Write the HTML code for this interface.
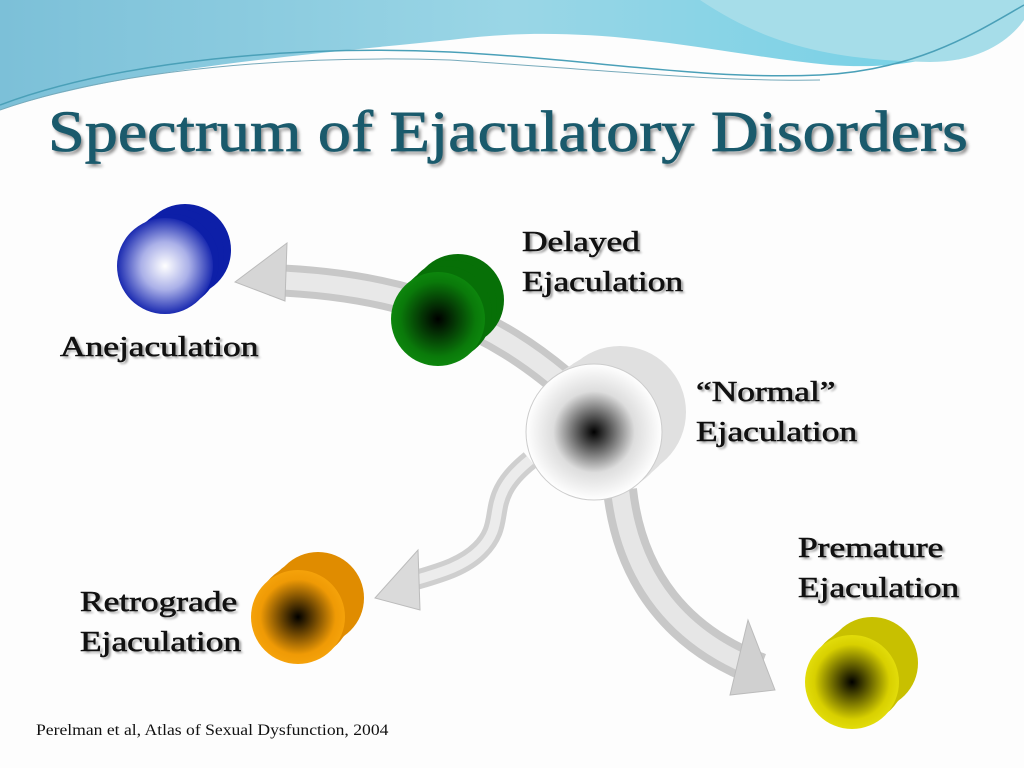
<!DOCTYPE html>
<html><head><meta charset="utf-8"><style>
body{margin:0;width:1024px;height:768px;overflow:hidden;background:#fdfdfd;font-family:"Liberation Serif",serif}
.t{position:absolute;color:#111;font-size:29px;line-height:40px;text-shadow:2px 2px 2px #999;transform:scaleX(1.22);transform-origin:0 0;-webkit-text-stroke:0.6px #111;white-space:nowrap}
</style></head><body>
<svg width="1024" height="768" style="position:absolute;left:0;top:0">
<defs>
<linearGradient id="sky" x1="0" y1="0" x2="1" y2="0"><stop offset="0" stop-color="#7cc0d8"/><stop offset="0.5" stop-color="#9ad6e6"/><stop offset="1" stop-color="#6fd0e6"/></linearGradient>
<radialGradient id="gW"><stop offset="0" stop-color="#000"/><stop offset="0.6" stop-color="#ddd"/><stop offset="1" stop-color="#fff"/></radialGradient>
<radialGradient id="gG"><stop offset="0" stop-color="#000"/><stop offset="0.8" stop-color="#0a7a0a"/><stop offset="1" stop-color="#0d860d"/></radialGradient>
<radialGradient id="gO"><stop offset="0" stop-color="#000"/><stop offset="0.8" stop-color="#ef9a05"/><stop offset="1" stop-color="#f5a20a"/></radialGradient>
<radialGradient id="gY"><stop offset="0" stop-color="#000"/><stop offset="0.8" stop-color="#d8d000"/><stop offset="1" stop-color="#e2dc0a"/></radialGradient>
<radialGradient id="gB"><stop offset="0" stop-color="#fff"/><stop offset="0.5" stop-color="#aab0e8"/><stop offset="1" stop-color="#1a2ab0"/></radialGradient>
</defs>
<path d="M0,0H1024V15C960,60 900,70 830,65 720,55 600,20 450,40 300,55 120,70 0,110Z" fill="url(#sky)"/>
<path d="M700,0C760,40 820,60 930,62 980,62 1010,40 1024,20V0Z" fill="#a6dde9"/>
<path d="M0,105C120,60 300,45 450,52 600,60 700,80 820,75 920,70 980,30 1024,5" fill="none" stroke="#4aa0b8" stroke-width="1.5"/>
<path d="M0,110C120,68 300,55 450,60 600,70 720,82 820,80" fill="none" stroke="#7ab" stroke-width="1"/>
<g fill="none" stroke-linecap="butt">
<path d="M560,380C500,330 420,285 270,280" stroke="#c8c8c8" stroke-width="32"/>
<path d="M560,380C500,330 420,285 270,280" stroke="#e8e8e8" stroke-width="18"/>
<path d="M620,490C630,580 680,640 760,670" stroke="#c8c8c8" stroke-width="34"/>
<path d="M620,490C630,580 680,640 760,670" stroke="#e6e6e6" stroke-width="18"/>
<path d="M530,460C480,500 510,520 480,550 460,570 430,575 400,585" stroke="#cfcfcf" stroke-width="20"/>
<path d="M530,460C480,500 510,520 480,550 460,570 430,575 400,585" stroke="#ececec" stroke-width="10"/>
</g>
<polygon points="235,282 287,243 285,301" fill="#d6d6d6" stroke="#bbb"/>
<polygon points="775,690 748,620 730,695" fill="#d0d0d0" stroke="#bbb"/>
<polygon points="375,598 418,550 420,610" fill="#dadada" stroke="#bbb"/>
<g fill="#0d1fa8"><circle cx="185" cy="250" r="46"/><circle cx="178" cy="255" r="46"/><circle cx="172" cy="261" r="47"/></g><circle cx="165" cy="266" r="48" fill="url(#gB)"/>
<g fill="#077007"><circle cx="458" cy="300" r="46"/><circle cx="451" cy="306" r="46"/><circle cx="445" cy="313" r="47"/></g><circle cx="438" cy="319" r="47" fill="url(#gG)"/>
<g fill="#e0e0e0"><circle cx="620" cy="412" r="66"/><circle cx="611" cy="419" r="67"/><circle cx="602" cy="426" r="68"/></g><circle cx="594" cy="432" r="68" fill="url(#gW)" stroke="#ccc"/>
<g fill="#e08c00"><circle cx="318" cy="598" r="46"/><circle cx="311" cy="604" r="46"/><circle cx="304" cy="611" r="47"/></g><circle cx="298" cy="617" r="47" fill="url(#gO)"/>
<g fill="#c8c000"><circle cx="872" cy="663" r="46"/><circle cx="865" cy="669" r="46"/><circle cx="858" cy="676" r="47"/></g><circle cx="852" cy="682" r="47" fill="url(#gY)"/>
</svg>
<div style="position:absolute;left:48px;top:98px;font-size:58px;color:#1a5a6c;text-shadow:2px 3px 3px #888;white-space:nowrap;transform:scaleX(1.14);transform-origin:0 0;-webkit-text-stroke:0.8px #1a5a6c">Spectrum of Ejaculatory Disorders</div>
<div class="t" style="left:60px;top:327px">Anejaculation</div>
<div class="t" style="left:522px;top:222px">Delayed<br>Ejaculation</div>
<div class="t" style="left:696px;top:372px">“Normal”<br>Ejaculation</div>
<div class="t" style="left:798px;top:528px">Premature<br>Ejaculation</div>
<div class="t" style="left:80px;top:582px">Retrograde<br>Ejaculation</div>
<div style="position:absolute;left:36px;top:722px;font-size:16px;color:#111;transform:scaleX(1.1);transform-origin:0 0;white-space:nowrap">Perelman et al, Atlas of Sexual Dysfunction, 2004</div>
</body></html>
